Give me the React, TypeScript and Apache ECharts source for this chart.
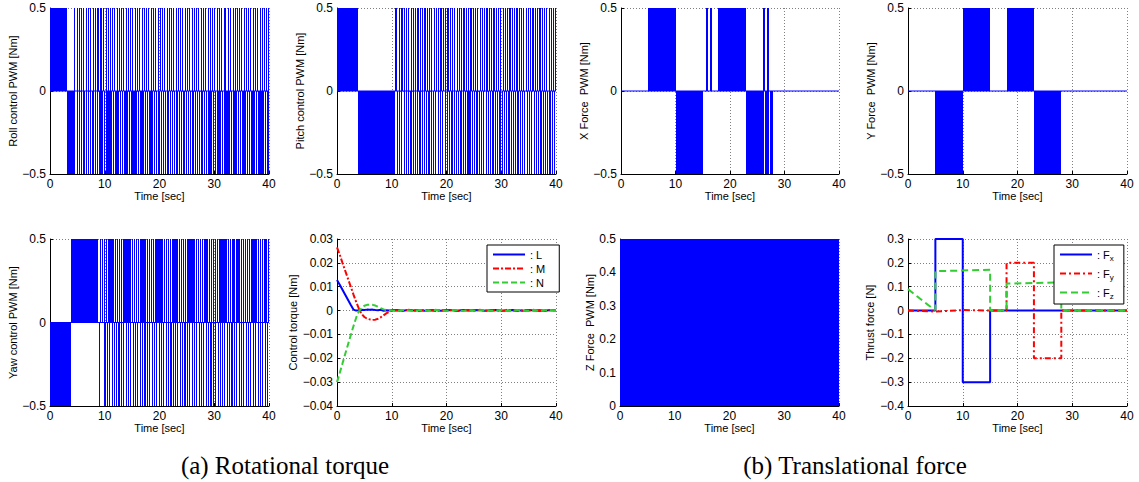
import React, { useEffect, useRef } from 'react';
import * as echarts from 'echarts';

// ---------------- Tick labels ----------------
const timeTicks = [0, 10, 20, 30, 40];
const pwmTicks = [-0.5, 0, 0.5];
const zForceTicks = [0, 0.1, 0.2, 0.3, 0.4, 0.5];
const torqueTicks = [-0.04, -0.03, -0.02, -0.01, 0, 0.01, 0.02, 0.03];
const thrustTicks = [-0.4, -0.3, -0.2, -0.1, 0, 0.1, 0.2, 0.3];

// ---------------- PWM signals (times in sec) ----------------
const pwmLevel = 0.5;

// Roll
const rollPosBlocks = [[0, 3.05]];
const rollPosPulses = [4.45, 4.9, 5.35, 5.7, 6.1, 6.55, 6.9, 7.35, 7.8, 8.2, 8.55, 8.85, 9.15, 9.4, 9.7, 10.15, 10.55, 10.95, 11.4, 11.75, 12.2, 12.6, 13.05, 13.4, 13.85, 14.25, 14.7, 15.05, 15.5, 15.95, 16.3, 16.75, 17.15, 17.6, 17.95, 18.4, 18.85, 19.2, 19.65, 20.1, 20.45, 20.9, 21.3, 21.75, 22.1, 22.55, 23.0, 23.35, 23.8, 24.2, 24.65, 25.0, 25.45, 25.9, 26.25, 26.7, 27.1, 27.55, 27.9, 28.35, 28.8, 29.15, 29.6, 30.0, 30.45, 30.8, 31.25, 31.7, 32.05, 32.5, 32.9, 33.35, 33.7, 34.15, 34.6, 34.95, 35.4, 35.8, 36.25, 36.6, 37.05, 37.5, 37.85, 38.3, 38.7, 39.15, 39.5, 39.85];
const rollPosWidth = 0.16;
const rollNegBlocks = [[3.05, 4.6]];
const rollNegPulses = [4.85, 5.25, 5.65, 6.1, 6.5, 6.9, 7.3, 7.75, 8.15, 8.55, 9.0, 9.4, 9.8, 10.25, 10.65, 11.05, 11.5, 11.9, 12.3, 12.7, 13.15, 13.55, 13.95, 14.4, 14.8, 15.2, 15.6, 16.05, 16.45, 16.85, 17.3, 17.7, 18.1, 18.5, 18.95, 19.35, 19.75, 20.2, 20.6, 21.0, 21.4, 21.85, 22.25, 22.65, 23.1, 23.5, 23.9, 24.3, 24.75, 25.15, 25.55, 26.0, 26.4, 26.8, 27.2, 27.65, 28.05, 28.45, 28.9, 29.3, 29.7, 30.1, 30.55, 30.95, 31.35, 31.8, 32.2, 32.6, 33.0, 33.45, 33.85, 34.25, 34.7, 35.1, 35.5, 35.9, 36.35, 36.75, 37.15, 37.6, 38.0, 38.4, 38.8, 39.25, 39.65];
const rollNegWidth = 0.27;

// Pitch
const pitchPosBlocks = [[0, 3.9], [10.6, 11.05]];
const pitchPosPulses = [11.35, 11.75, 12.2, 12.6, 13.0, 13.45, 13.85, 14.3, 14.7, 15.1, 15.55, 15.95, 16.4, 16.8, 17.2, 17.65, 18.05, 18.5, 18.9, 19.3, 19.75, 20.15, 20.6, 21.0, 21.4, 21.85, 22.25, 22.7, 23.1, 23.5, 23.95, 24.35, 24.8, 25.2, 25.6, 26.05, 26.45, 26.9, 27.3, 27.7, 28.15, 28.55, 29.0, 29.4, 29.8, 30.25, 30.65, 31.1, 31.5, 31.9, 32.35, 32.75, 33.2, 33.6, 34.0, 34.45, 34.85, 35.3, 35.7, 36.1, 36.55, 36.95, 37.4, 37.8, 38.2, 38.65, 39.05, 39.5, 39.85];
const pitchPosWidth = 0.22;
const pitchNegBlocks = [[3.9, 10.65]];
const pitchNegPulses = [10.95, 11.3, 11.7, 12.15, 12.55, 12.95, 13.4, 13.8, 14.2, 14.65, 15.05, 15.45, 15.9, 16.3, 16.7, 17.15, 17.55, 17.95, 18.4, 18.8, 19.2, 19.65, 20.05, 20.45, 20.9, 21.3, 21.7, 22.15, 22.55, 22.95, 23.4, 23.8, 24.2, 24.65, 25.05, 25.45, 25.9, 26.3, 26.7, 27.15, 27.55, 27.95, 28.4, 28.8, 29.2, 29.65, 30.05, 30.45, 30.9, 31.3, 31.7, 32.15, 32.55, 32.95, 33.4, 33.8, 34.2, 34.65, 35.05, 35.45, 35.9, 36.3, 36.7, 37.15, 37.55, 37.95, 38.4, 38.8, 39.2, 39.65];
const pitchNegWidth = 0.22;

// Yaw
const yawPosBlocks = [[3.85, 8.85]];
const yawPosPulses = [9.05, 9.45, 9.8, 10.2, 10.6, 11.0, 11.4, 11.8, 12.15, 12.55, 12.95, 13.35, 13.75, 14.1, 14.5, 14.9, 15.3, 15.7, 16.05, 16.45, 16.85, 17.25, 17.65, 18.0, 18.4, 18.8, 19.2, 19.6, 19.95, 20.35, 20.75, 21.15, 21.55, 21.9, 22.3, 22.7, 23.1, 23.5, 23.85, 24.25, 24.65, 25.05, 25.45, 25.8, 26.2, 26.6, 27.0, 27.4, 27.75, 28.15, 28.55, 28.95, 29.35, 29.7, 30.1, 30.5, 30.9, 31.3, 31.65, 32.05, 32.45, 32.85, 33.25, 33.6, 34.0, 34.4, 34.8, 35.2, 35.55, 35.95, 36.35, 36.75, 37.15, 37.5, 37.9, 38.3, 38.7, 39.1, 39.45, 39.8];
const yawPosWidth = 0.27;
const yawNegBlocks = [[0, 3.85]];
const yawNegPulses = [8.95, 9.95, 10.35, 10.8, 11.25, 11.65, 12.1, 12.5, 12.95, 13.4, 13.8, 14.25, 14.65, 15.1, 15.55, 15.95, 16.4, 16.8, 17.25, 17.7, 18.1, 18.55, 18.95, 19.4, 19.85, 20.25, 20.7, 21.1, 21.55, 22.0, 22.4, 22.85, 23.25, 23.7, 24.15, 24.55, 25.0, 25.4, 25.85, 26.3, 26.7, 27.15, 27.55, 28.0, 28.45, 28.85, 29.3, 29.7, 30.15, 30.6, 31.0, 31.45, 31.85, 32.3, 32.75, 33.15, 33.6, 34.0, 34.45, 34.9, 35.3, 35.75, 36.15, 36.6, 37.05, 37.45, 37.9, 38.3, 38.75, 39.2, 39.6];
const yawNegWidth = 0.2;

// X force
const xPosBlocks = [[5, 10], [15.6, 15.9], [16.3, 16.65], [17.8, 22.9], [26.1, 26.4], [26.8, 27.2]];
const xNegBlocks = [[10, 15], [22.9, 26.2], [26.5, 27.1], [27.4, 27.9]];

// Y force
const yPosBlocks = [[10, 15], [18, 23]];
const yNegBlocks = [[5, 10], [23, 28]];

// Z force
const zPosBlocks = [[0, 40]];

// ---------------- Control torque ----------------
const torqueTime = [0, 0.5, 1, 1.5, 2, 2.5, 3, 3.5, 4, 4.5, 5, 5.5, 6, 6.5, 7, 7.5, 8, 8.5, 9, 9.5, 10, 11, 12, 13, 14, 15, 16, 17, 18, 19, 20, 21, 22, 23, 24, 25, 26, 27, 28, 29, 30, 31, 32, 33, 34, 35, 36, 37, 38, 39, 40];
const torqueL = [0.0128, 0.0108, 0.0087, 0.0066, 0.0045, 0.0024, 0.0004, 0.0, 0.0001, 0.0003, 0.0002, 0.0004, 0.0003, 0.0004, 0.0002, 0.0001, 0.0003, -0.0001, 0.0001, 0.0, 0.0001,
  0.0002, -0.0001, 0.0002, 0.0, 0.0002, -0.0001, 0.0001, 0.0002, -0.0001, 0.0001, 0.0002, -0.0001, 0.0002, 0.0, 0.0001, 0.0002, -0.0001, 0.0001, 0.0002, 0.0, -0.0001, 0.0002, 0.0001, -0.0001, 0.0002, 0.0, 0.0001, -0.0001, 0.0002, 0.0];
const torqueM = [0.0265, 0.0234, 0.02, 0.0167, 0.0134, 0.0101, 0.0068, 0.0036, 0.0008, -0.0014, -0.0027, -0.0034, -0.0037, -0.0039, -0.0038, -0.0034, -0.0028, -0.002, -0.0012, -0.0005, -0.0001,
  0.0001, -0.0002, 0.0003, 0.0, -0.0002, 0.0003, 0.0001, -0.0002, 0.0002, 0.0, 0.0003, -0.0002, 0.0001, 0.0002, -0.0002, 0.0003, 0.0, -0.0001, 0.0002, -0.0002, 0.0003, 0.0001, -0.0002, 0.0002, 0.0, 0.0003, -0.0002, 0.0001, 0.0002, -0.0001];
const torqueN = [-0.03, -0.0262, -0.0222, -0.0182, -0.0143, -0.0104, -0.0066, -0.003, -0.0003, 0.0012, 0.002, 0.0024, 0.0025, 0.0024, 0.0021, 0.0016, 0.001, 0.0005, 0.0002, 0.0001, 0.0,
  -0.0001, 0.0002, 0.0001, -0.0002, 0.0002, 0.0, -0.0001, 0.0003, 0.0, -0.0002, 0.0002, 0.0001, -0.0002, 0.0002, -0.0001, 0.0001, 0.0003, -0.0001, 0.0, 0.0002, -0.0002, 0.0001, 0.0002, -0.0001, 0.0, 0.0002, -0.0002, 0.0001, 0.0002, 0.0];

// ---------------- Thrust force ----------------
const fxTime = [0, 5, 5, 10, 10, 15, 15, 40];
const fxValue = [0, 0, 0.3, 0.3, -0.3, -0.3, 0, 0];
const fyTime = [0, 5, 10, 15, 18, 18, 23, 23, 28, 28, 40];
const fyValue = [0, -0.004, 0.002, 0, 0, 0.2, 0.2, -0.2, -0.2, 0, 0];
const fzTime = [0, 4.8, 5, 5, 15, 15, 18, 18, 28, 28, 40];
const fzValue = [0.09, 0.003, 0.003, 0.165, 0.171, 0, 0, 0.113, 0.118, 0, 0];

// ---------------- Styling ----------------
const FONT = '"Liberation Sans", Arial, Helvetica, sans-serif';
const SERIF = '"Liberation Serif", "DejaVu Serif", serif';
const BLUE = '#0000ff';
const RED = '#ff0000';
const GREEN = '#33cc33';

type Panel = { left: number; top: number; width: number; height: number; yTicks: number[]; yName: string; nameGap: number };

const panels: Panel[] = [
  { left: 50, top: 8, width: 219, height: 166, yTicks: pwmTicks, yName: 'Roll control PWM [Nm]', nameGap: 31 },
  { left: 337, top: 8, width: 219, height: 166, yTicks: pwmTicks, yName: 'Pitch control PWM [Nm]', nameGap: 32 },
  { left: 621, top: 8, width: 218, height: 166, yTicks: pwmTicks, yName: 'X Force  PWM [Nm]', nameGap: 32 },
  { left: 908, top: 8, width: 219, height: 166, yTicks: pwmTicks, yName: 'Y Force  PWM [Nm]', nameGap: 32 },
  { left: 50, top: 239, width: 219, height: 167, yTicks: pwmTicks, yName: 'Yaw control PWM [Nm]', nameGap: 31 },
  { left: 337, top: 239, width: 219, height: 167, yTicks: torqueTicks, yName: 'Control torque [Nm]', nameGap: 37 },
  { left: 620, top: 239, width: 219, height: 167, yTicks: zForceTicks, yName: 'Z Force  PWM [Nm]', nameGap: 25 },
  { left: 908, top: 239, width: 219, height: 167, yTicks: thrustTicks, yName: 'Thrust force [N]', nameGap: 33 },
];

function fmt(v: number): string {
  const a = parseFloat(Math.abs(v).toFixed(4));
  if (a === 0) return '0';
  return (v < 0 ? '\u2212' : '') + String(a);
}

function pwmData(blocks: number[][], pulses: number[], width: number, level: number) {
  return [
    ...blocks.map((b) => [b[0], b[1], level]),
    ...pulses.map((s) => [s, Math.min(s + width, 40), level]),
  ];
}

function renderPulse(params: any, api: any) {
  const p0 = api.coord([api.value(0), 0]);
  const p1 = api.coord([api.value(1), api.value(2)]);
  const x0 = Math.round(p0[0]);
  const x1 = Math.max(x0 + 1, Math.round(p1[0]));
  const y = Math.min(p0[1], p1[1]);
  const h = Math.abs(p1[1] - p0[1]);
  return {
    type: 'rect',
    shape: { x: x0, y, width: x1 - x0, height: h },
    style: { fill: BLUE },
  };
}

function pwmSeries(idx: number, name: string, data: number[][]) {
  return {
    type: 'custom',
    name,
    xAxisIndex: idx,
    yAxisIndex: idx,
    renderItem: renderPulse,
    encode: { x: [0, 1], y: 2 },
    data,
    clip: true,
    silent: true,
  };
}

function zeroLine(idx: number, name: string) {
  return {
    type: 'line',
    name,
    xAxisIndex: idx,
    yAxisIndex: idx,
    data: [[timeTicks[0], 0], [timeTicks[timeTicks.length - 1], 0]],
    symbol: 'none',
    lineStyle: { color: BLUE, width: 1.2 },
    silent: true,
  };
}

function zip(t: number[], v: number[]) {
  return t.map((x, i) => [x, v[i]]);
}

function buildOption() {
  const grid = panels.map((p) => ({ left: p.left, top: p.top, width: p.width, height: p.height, containLabel: false }));
  const gridLine = { show: true, lineStyle: { color: '#808080', type: [1, 2], width: 1 } };
  const xAxis = panels.map((p, i) => ({
    gridIndex: i,
    type: 'value',
    min: timeTicks[0],
    max: timeTicks[timeTicks.length - 1],
    interval: timeTicks[1] - timeTicks[0],
    name: 'Time [sec]',
    nameLocation: 'middle',
    nameGap: 16,
    nameTextStyle: { fontSize: 11, color: '#000', fontFamily: FONT },
    axisLine: { show: true, onZero: false, lineStyle: { color: '#000', width: 1 } },
    axisTick: { show: true, inside: true, length: 3, lineStyle: { color: '#000' } },
    axisLabel: { fontSize: 12, color: '#000', margin: 4, fontFamily: FONT },
    splitLine: gridLine,
  }));
  const yAxis = panels.map((p, i) => ({
    gridIndex: i,
    type: 'value',
    min: p.yTicks[0],
    max: p.yTicks[p.yTicks.length - 1],
    interval: parseFloat((p.yTicks[1] - p.yTicks[0]).toFixed(4)),
    name: p.yName,
    nameLocation: 'middle',
    nameRotate: 90,
    nameGap: p.nameGap,
    nameTextStyle: { fontSize: 11, color: '#000', fontFamily: FONT },
    axisLine: { show: true, onZero: false, lineStyle: { color: '#000', width: 1 } },
    axisTick: { show: true, inside: true, length: 3, lineStyle: { color: '#000' } },
    axisLabel: { fontSize: 12, color: '#000', margin: 4, fontFamily: FONT, formatter: fmt },
    splitLine: gridLine,
  }));

  const series: any[] = [
    pwmSeries(0, 'rollPos', pwmData(rollPosBlocks, rollPosPulses, rollPosWidth, pwmLevel)),
    pwmSeries(0, 'rollNeg', pwmData(rollNegBlocks, rollNegPulses, rollNegWidth, -pwmLevel)),
    zeroLine(0, 'rollZero'),
    pwmSeries(1, 'pitchPos', pwmData(pitchPosBlocks, pitchPosPulses, pitchPosWidth, pwmLevel)),
    pwmSeries(1, 'pitchNeg', pwmData(pitchNegBlocks, pitchNegPulses, pitchNegWidth, -pwmLevel)),
    zeroLine(1, 'pitchZero'),
    pwmSeries(2, 'xPos', pwmData(xPosBlocks, [], 0, pwmLevel)),
    pwmSeries(2, 'xNeg', pwmData(xNegBlocks, [], 0, -pwmLevel)),
    zeroLine(2, 'xZero'),
    pwmSeries(3, 'yPos', pwmData(yPosBlocks, [], 0, pwmLevel)),
    pwmSeries(3, 'yNeg', pwmData(yNegBlocks, [], 0, -pwmLevel)),
    zeroLine(3, 'yZero'),
    pwmSeries(4, 'yawPos', pwmData(yawPosBlocks, yawPosPulses, yawPosWidth, pwmLevel)),
    pwmSeries(4, 'yawNeg', pwmData(yawNegBlocks, yawNegPulses, yawNegWidth, -pwmLevel)),
    zeroLine(4, 'yawZero'),
    pwmSeries(6, 'zPos', pwmData(zPosBlocks, [], 0, pwmLevel)),
    {
      type: 'line', name: 'L', xAxisIndex: 5, yAxisIndex: 5, data: zip(torqueTime, torqueL),
      symbol: 'none', lineStyle: { color: BLUE, width: 2, type: 'solid' }, itemStyle: { color: BLUE },
    },
    {
      type: 'line', name: 'M', xAxisIndex: 5, yAxisIndex: 5, data: zip(torqueTime, torqueM),
      symbol: 'none', lineStyle: { color: RED, width: 2, type: [6, 2, 2, 2] }, itemStyle: { color: RED },
    },
    {
      type: 'line', name: 'N', xAxisIndex: 5, yAxisIndex: 5, data: zip(torqueTime, torqueN),
      symbol: 'none', lineStyle: { color: GREEN, width: 2, type: [6, 3] }, itemStyle: { color: GREEN },
    },
    {
      type: 'line', name: 'Fx', xAxisIndex: 7, yAxisIndex: 7, data: zip(fxTime, fxValue),
      symbol: 'none', lineStyle: { color: BLUE, width: 2, type: 'solid' }, itemStyle: { color: BLUE },
    },
    {
      type: 'line', name: 'Fy', xAxisIndex: 7, yAxisIndex: 7, data: zip(fyTime, fyValue),
      symbol: 'none', lineStyle: { color: RED, width: 2, type: [6, 3, 2, 3] }, itemStyle: { color: RED },
    },
    {
      type: 'line', name: 'Fz', xAxisIndex: 7, yAxisIndex: 7, data: zip(fzTime, fzValue),
      symbol: 'none', lineStyle: { color: GREEN, width: 2, type: [7, 4] }, itemStyle: { color: GREEN },
    },
  ];

  const legendBase = {
    orient: 'vertical',
    align: 'left',
    itemWidth: 32,
    itemHeight: 10,
    borderColor: '#000',
    borderWidth: 1,
    borderRadius: 0,
    backgroundColor: '#fff',
    selectedMode: false,
    itemStyle: { opacity: 0, borderWidth: 0 },
    textStyle: { fontSize: 11, color: '#000', fontFamily: FONT },
  };

  return {
    animation: false,
    backgroundColor: '#fff',
    grid,
    xAxis,
    yAxis,
    series,
    legend: [
      {
        ...legendBase,
        data: ['L', 'M', 'N'],
        left: 487,
        top: 245,
        itemGap: 3,
        padding: [4, 14, 4, 5],
        formatter: (n: string) => ': ' + n,
      },
      {
        ...legendBase,
        data: ['Fx', 'Fy', 'Fz'],
        left: 1054,
        top: 245,
        itemGap: 6,
        padding: [4, 10, 4, 5],
        formatter: (n: string) => ': F{s|' + n.slice(1) + '}',
        textStyle: {
          fontSize: 11, color: '#000', fontFamily: FONT,
          rich: { s: { fontSize: 8, fontFamily: FONT, color: '#000', padding: [7, 0, 0, 0] } },
        },
      },
    ],
    graphic: [
      {
        type: 'text', x: 285, y: 465,
        style: { text: '(a) Rotational torque', fontSize: 25, fontFamily: SERIF, fill: '#000', align: 'center', verticalAlign: 'middle' },
      },
      {
        type: 'text', x: 855, y: 465,
        style: { text: '(b) Translational force', fontSize: 25, fontFamily: SERIF, fill: '#000', align: 'center', verticalAlign: 'middle' },
      },
    ],
  };
}

export default function App() {
  const ref = useRef<HTMLDivElement>(null);
  useEffect(() => {
    if (!ref.current) return;
    const chart = echarts.init(ref.current, undefined, { renderer: 'svg' });
    chart.setOption(buildOption() as any);
    return () => chart.dispose();
  }, []);
  return <div ref={ref} style={{ position: 'fixed', left: 0, top: 0, width: 1139, height: 482, background: '#fff' }} />;
}
